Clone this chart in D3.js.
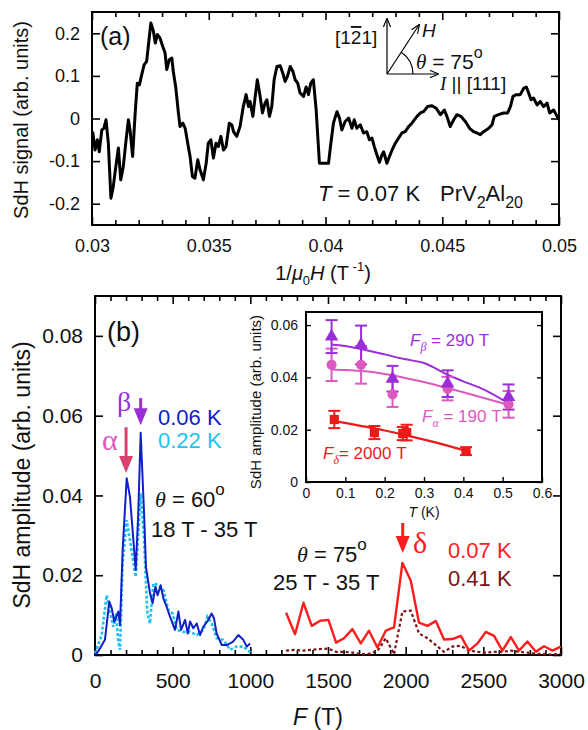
<!DOCTYPE html>
<html><head><meta charset="utf-8">
<script src="https://cdn.jsdelivr.net/npm/d3@7"></script>
<style>
body{margin:0;background:#fff}
svg text{font-family:"Liberation Sans",Arial,Helvetica,sans-serif;fill:#111}
</style>
</head><body><svg id="c" width="588" height="730"></svg>
<script>
// ---------------- DATA ----------------
// Panel (a): SdH signal vs 1/mu0H, pairs [1/mu0H (T^-1), signal]
const sdhSignal = [[0.03003,-0.031],[0.03013,-0.074],[0.03023,-0.05],[0.03031,-0.078],[0.03042,-0.027],[0.03051,-0.023],[0.0306,-0.003],[0.0307,-0.058],[0.03081,-0.187],[0.03091,-0.16],[0.03102,-0.113],[0.03113,-0.069],[0.03123,-0.144],[0.03134,-0.113],[0.03146,-0.05],[0.03156,-0.003],[0.03163,-0.027],[0.03174,-0.089],[0.03184,0.005],[0.03194,0.083],[0.03203,0.079],[0.03213,0.103],[0.03223,0.126],[0.03234,0.134],[0.03241,0.169],[0.03252,0.224],[0.03263,0.205],[0.03271,0.177],[0.0328,0.197],[0.03291,0.189],[0.03303,0.169],[0.03313,0.154],[0.0332,0.115],[0.03331,0.138],[0.03342,0.142],[0.03348,0.111],[0.03359,0.072],[0.0337,0.013],[0.03377,-0.019],[0.03389,-0.011],[0.03399,-0.023],[0.0341,-0.058],[0.0342,-0.089],[0.0343,-0.136],[0.03441,-0.14],[0.03453,-0.097],[0.03463,-0.121],[0.03477,-0.144],[0.03489,-0.105],[0.03498,-0.058],[0.03509,-0.05],[0.0352,-0.093],[0.03531,-0.058],[0.03541,-0.066],[0.03552,-0.042],[0.03563,-0.074],[0.03574,-0.066],[0.03588,-0.011],[0.03599,-0.015],[0.03606,-0.031],[0.0362,-0.042],[0.03634,-0.019],[0.03648,0.028],[0.0366,0.056],[0.0367,0.028],[0.03677,0.04],[0.03689,0.005],[0.03699,0.052],[0.03708,0.091],[0.0372,0.052],[0.0373,0.013],[0.03741,0.036],[0.03749,0.044],[0.0376,0.005],[0.0377,0.028],[0.0378,0.091],[0.03792,0.122],[0.03806,0.124],[0.03817,0.107],[0.03827,0.087],[0.03837,0.099],[0.03849,0.122],[0.0386,0.111],[0.0387,0.091],[0.03881,0.083],[0.03891,0.06],[0.03906,0.052],[0.03917,0.074],[0.03927,0.056],[0.03937,0.083],[0.03948,0.091],[0.0396,0.02],[0.03974,-0.105],[0.03991,-0.105],[0.04013,-0.105],[0.04023,-0.058],[0.04034,-0.011],[0.04049,0.016],[0.0406,0.001],[0.0407,-0.027],[0.04084,-0.007],[0.04099,0.001],[0.04113,-0.023],[0.04123,-0.003],[0.04134,-0.023],[0.04149,-0.015],[0.04163,-0.034],[0.04177,-0.031],[0.04188,-0.05],[0.04199,-0.046],[0.04209,-0.066],[0.0422,-0.085],[0.04231,-0.103],[0.04242,-0.085],[0.04249,-0.078],[0.04263,-0.105],[0.04274,-0.089],[0.04285,-0.074],[0.04299,-0.058],[0.04313,-0.046],[0.04327,-0.034],[0.04341,-0.031],[0.04356,-0.019],[0.0437,-0.011],[0.04392,0.005],[0.04406,0.013],[0.0442,0.016],[0.04437,0.028],[0.04456,0.03],[0.04474,0.024],[0.04492,0.009],[0.04509,0.02],[0.0452,0.005],[0.04534,-0.019],[0.04549,-0.003],[0.04563,0.009],[0.0458,0.005],[0.04599,-0.007],[0.04617,-0.023],[0.04634,-0.031],[0.04649,-0.034],[0.04663,-0.038],[0.04677,-0.031],[0.04699,-0.023],[0.04713,-0.015],[0.04723,0.005],[0.04741,0.009],[0.04763,0.013],[0.0478,0.013],[0.04792,0.028],[0.04803,0.052],[0.04817,0.056],[0.04834,0.056],[0.04849,0.071],[0.0486,0.074],[0.0487,0.06],[0.0488,0.044],[0.04891,0.048],[0.04906,0.032],[0.0492,0.04],[0.04934,0.028],[0.04949,0.036],[0.0496,0.013],[0.04977,0.02],[0.04992,0.005],[0.05,-0.003]];

// Panel (b): FFT amplitude spectra
const fBlue = [0,22,64,92,108,124,150,161,178,204,225,247,262,278,294,316,328,354,371,389,403,423,440,461,483,515,537,554,580,597,612,633,655,676,698,723,751,766,783,816,848,887,923,955,977,998];
const aBlue006K = [0,0.001,0.0038,0.0134,0.0117,0.0083,0.0109,0.0075,0.0263,0.0443,0.0397,0.0288,0.0213,0.035,0.0557,0.0355,0.0221,0.0155,0.013,0.0171,0.015,0.0175,0.0142,0.0121,0.0096,0.0063,0.0109,0.0063,0.0088,0.0054,0.0084,0.0067,0.0079,0.005,0.0071,0.0084,0.0104,0.0092,0.0054,0.0025,0.0025,0.0033,0.005,0.0038,0.0021,0.0029];
const fCyan = [0,43,75,97,118,135,150,161,178,204,225,262,294,316,337,354,376,408,440,472,500,526,569,612,655,698,723,751,783,826,869,912,955,1008];
const aCyan022K = [0.0004,0.005,0.015,0.0109,0.0071,0.0104,0.0033,0.0013,0.023,0.0338,0.0288,0.0196,0.0405,0.0288,0.0104,0.0079,0.018,0.0175,0.0163,0.0113,0.0104,0.0063,0.0058,0.0058,0.005,0.0063,0.0096,0.0079,0.0042,0.0038,0.0013,0.0021,0.0021,0.0004];
const fRed = [1230,1288,1342,1395,1449,1503,1552,1603,1657,1711,1764,1818,1872,1925,1979,2033,2086,2140,2194,2247,2301,2355,2408,2462,2516,2569,2623,2677,2730,2784,2838,2891,2945,2999];
const aRed007K = [0.0106,0.0052,0.0131,0.0073,0.0086,0.0088,0.0031,0.0042,0.0065,0.0029,0.0061,0.0019,0.0061,0.0069,0.0231,0.0186,0.0081,0.0073,0.0085,0.0039,0.004,0.0048,0.0011,0.0029,0.0058,0.0048,0.0011,0.0045,0.0011,0.0034,0.0008,0.0022,0.0011,0.0021];
const aDark041K = [0.0011,0.0013,0.0011,0.0013,0.0015,0.0016,0.0008,0.0008,0.0006,0.0002,0.0003,0.001,0.0042,0.0002,0.0109,0.0111,0.0054,0.0042,0.0025,0.0008,0.0021,0.0023,0.0011,0.0008,0.0006,0.0008,0.0008,0.0011,0.0008,0.0006,0.0003,0.0003,0.0001,0.0003];

// Inset: amplitude vs temperature
const betaT = [0.065,0.14,0.22,0.36,0.515];
const betaA = [0.0556,0.0524,0.0395,0.0376,0.0325];
const betaErr = [0.0063,0.0074,0.0049,0.0051,0.0048];
const alphaT = [0.065,0.14,0.22,0.36,0.515];
const alphaA = [0.0448,0.0448,0.0335,0.0357,0.0297];
const alphaErr = [0.0062,0.0072,0.0048,0.0045,0.0051];
const deltaT = [0.072,0.174,0.246,0.256,0.407];
const deltaA = [0.0239,0.0189,0.0185,0.0189,0.0118];
const deltaErr = [0.0033,0.0025,0.0025,0.003,0.0015];
const betaFitT = [0.065,0.1,0.15,0.2,0.25,0.3,0.36,0.4,0.45,0.51];
const betaFitA = [0.0526,0.052,0.0505,0.0488,0.047,0.0455,0.041,0.0385,0.0355,0.0305];
const alphaFitT = [0.065,0.1,0.15,0.2,0.25,0.3,0.35,0.4,0.45,0.51];
const alphaFitA = [0.043,0.0428,0.0423,0.0413,0.0399,0.0382,0.0363,0.0343,0.0322,0.0297];
const deltaFitT = [0.07,0.15,0.2,0.25,0.3,0.35,0.4];
const deltaFitA = [0.0234,0.0212,0.0197,0.018,0.0162,0.0143,0.0122];

// Tick values / labels
const aXTicks = [0.03,0.035,0.04,0.045,0.05];
const aXTickLabels = ["0.03","0.035","0.04","0.045","0.05"];
const aYTicks = [-0.2,-0.1,0,0.1,0.2];
const aYTickLabels = ["-0.2","-0.1","0","0.1","0.2"];
const bXTicks = [0,500,1000,1500,2000,2500,3000];
const bYTicks = [0,0.02,0.04,0.06,0.08];
const bYTickLabels = ["0","0.02","0.04","0.06","0.08"];
const inXTicks = [0,0.1,0.2,0.3,0.4,0.5,0.6];
const inYTicks = [0,0.02,0.04,0.06];
const inYTickLabels = ["0","0.02","0.04","0.06"];

// ---------------- DRAW ----------------
const svg = d3.select('#c');
const C = {blue:'#1020c8', cyan:'#1ec2f2', red:'#ff1c1c', dark:'#7a1414',
  beta:'#9a2fd8', alpha:'#dc5abf', alphaArrow:'#d8406e', delta:'#ee1a1a'};

function axes(g, x, y, o){
  const [x0,x1] = x.range(), [y0,y1] = y.range();
  const mk = (ax, tr, vals, size, fmt, pad, fs) => {
    const a = g.append('g').attr('transform', tr)
      .call(ax.tickValues(vals).tickSizeInner(-size).tickSizeOuter(0).tickPadding(pad).tickFormat(fmt));
    a.select('.domain').remove();
    a.selectAll('line').attr('stroke','#000').attr('stroke-width',o.tw||1.6);
    a.selectAll('text').attr('font-size',fs).attr('fill','#111')
      .style('font-family','"Liberation Sans",Arial,sans-serif');
    return a;
  };
  const none = () => '';
  mk(d3.axisBottom(x), `translate(0,${y0})`, o.xMajor, o.maj, o.xFmt, o.xPad, o.fs);
  if (o.xMinor) mk(d3.axisBottom(x), `translate(0,${y0})`, o.xMinor, o.min, none, 0, 0);
  if (o.top){
    mk(d3.axisTop(x), `translate(0,${y1})`, o.xMajor, o.maj, none, 0, 0);
    if (o.xMinor) mk(d3.axisTop(x), `translate(0,${y1})`, o.xMinor, o.min, none, 0, 0);
  }
  mk(d3.axisLeft(y), `translate(${x0},0)`, o.yMajor, o.maj, o.yFmt, o.yPad, o.fs);
  if (o.right) mk(d3.axisRight(y), `translate(${x1},0)`, o.yMajor, o.maj, none, 0, 0);
  g.append('rect').attr('x',x0).attr('y',y1).attr('width',x1-x0).attr('height',y0-y1)
    .attr('fill','none').attr('stroke','#000').attr('stroke-width',o.fw||2);
}

// ===== Panel (a) =====
const xa = d3.scaleLinear().domain([0.03,0.05]).range([92,559]);
const ya = d3.scaleLinear().domain([-0.25,0.25]).range([225,12]);
const ga = svg.append('g');
const aMinor = d3.range(0,21).map(i => 0.03 + i*0.001).filter(v => !aXTicks.some(t => Math.abs(t-v)<1e-9));
axes(ga, xa, ya, {xMajor:aXTicks, xMinor:aMinor, xFmt:(d,i)=>aXTickLabels[i], yMajor:aYTicks,
  yFmt:(d,i)=>aYTickLabels[i], maj:8, min:5, xPad:14, yPad:12, fs:18, top:true, right:true});
ga.append('path').datum(sdhSignal)
  .attr('d', d3.line().x(d=>xa(d[0])).y(d=>ya(d[1])))
  .attr('fill','none').attr('stroke','#000').attr('stroke-width',3).attr('stroke-linejoin','round');

ga.append('text').attr('x',100).attr('y',45).attr('font-size',25).text('(a)');
ga.append('text').attr('transform','translate(28,120) rotate(-90)').attr('text-anchor','middle')
  .attr('font-size',20).text('SdH signal (arb. units)');
const xl = ga.append('text').attr('x',323).attr('y',280).attr('text-anchor','middle').attr('font-size',20);
xl.append('tspan').text('1/');
xl.append('tspan').attr('font-style','italic').text('μ');
xl.append('tspan').attr('font-size',13).attr('dy',5).text('0');
xl.append('tspan').attr('font-style','italic').attr('dy',-5).text('H');
xl.append('tspan').text(' (T');
xl.append('tspan').attr('font-size',13).attr('dy',-9).text(' -1');
xl.append('tspan').attr('dy',9).text(')');

const tl = ga.append('text').attr('x',318).attr('y',201).attr('font-size',22);
tl.append('tspan').attr('font-style','italic').text('T');
tl.append('tspan').text(' = 0.07 K');
const pl = ga.append('text').attr('x',440).attr('y',201).attr('font-size',22);
pl.append('tspan').text('PrV');
pl.append('tspan').attr('font-size',16).attr('dy',7).text('2');
pl.append('tspan').attr('dy',-7).text('Al');
pl.append('tspan').attr('font-size',16).attr('dy',7).text('20');

// orientation diagram
const defs = svg.append('defs');
defs.append('marker').attr('id','ah').attr('viewBox','0 0 10 10').attr('refX',9).attr('refY',5)
  .attr('markerWidth',9).attr('markerHeight',9).attr('orient','auto-start-reverse').attr('markerUnits','userSpaceOnUse')
  .append('path').attr('d','M0,1 L10,5 L0,9').attr('fill','none').attr('stroke','#000').attr('stroke-width',1.3);
const ox=387, oy=74;
ga.append('line').attr('x1',ox).attr('y1',oy).attr('x2',ox).attr('y2',19).attr('stroke','#000').attr('stroke-width',1.2).attr('marker-end','url(#ah)');
ga.append('line').attr('x1',ox).attr('y1',oy).attr('x2',438).attr('y2',oy).attr('stroke','#000').attr('stroke-width',1.2).attr('marker-end','url(#ah)');
ga.append('line').attr('x1',ox).attr('y1',oy).attr('x2',419).attr('y2',25).attr('stroke','#000').attr('stroke-width',1.2).attr('marker-end','url(#ah)');
ga.append('path').attr('d', d3.arc().innerRadius(26).outerRadius(26).startAngle(Math.PI/2).endAngle(Math.PI/2 - 57*Math.PI/180)())
  .attr('transform',`translate(${ox},${oy})`).attr('fill','none').attr('stroke','#000').attr('stroke-width',1.2);
const dirl = ga.append('text').attr('x',335).attr('y',44).attr('font-size',19);
dirl.append('tspan').text('[1');
dirl.append('tspan').style('text-decoration','overline').text('2');
dirl.append('tspan').text('1]');
ga.append('text').attr('x',422).attr('y',37).attr('font-size',19).attr('font-style','italic').text('H');
const th = ga.append('text').attr('x',416).attr('y',69).attr('font-size',21);
th.append('tspan').attr('font-style','italic').style('font-family','"Liberation Serif",serif').text('θ');
th.append('tspan').text(' = 75');
th.append('tspan').attr('font-size',16).attr('dy',-11).text('o');
const il = ga.append('text').attr('x',440).attr('y',90).attr('font-size',19);
il.append('tspan').attr('font-style','italic').style('font-family','"Liberation Serif",serif').text('I');
il.append('tspan').text(' || [111]');

// ===== Panel (b) =====
const xb = d3.scaleLinear().domain([0,3000]).range([95,561]);
const yb = d3.scaleLinear().domain([0,0.09]).range([655,296]);
const gb = svg.append('g');
const bMinor = d3.range(0,31).map(i=>i*100).filter(v=>v%500!==0);
axes(gb, xb, yb, {xMajor:bXTicks, xMinor:bMinor, xFmt:d=>String(d), yMajor:bYTicks,
  yFmt:(d,i)=>bYTickLabels[i], maj:8, min:5, xPad:18, yPad:12, fs:21, top:true, right:true});

const lineB = (fs, as) => d3.line().x((d,i)=>xb(fs[i])).y((d,i)=>yb(as[i]))(as);
gb.append('path').attr('d', lineB(fCyan,aCyan022K)).attr('fill','none').attr('stroke',C.cyan).attr('stroke-width',2.6).attr('stroke-dasharray','3,2');
gb.append('path').attr('d', lineB(fBlue,aBlue006K)).attr('fill','none').attr('stroke',C.blue).attr('stroke-width',2).attr('stroke-linejoin','round');
gb.append('path').attr('d', lineB(fRed,aDark041K)).attr('fill','none').attr('stroke',C.dark).attr('stroke-width',2.2).attr('stroke-dasharray','3,2.5');
gb.append('path').attr('d', lineB(fRed,aRed007K)).attr('fill','none').attr('stroke',C.red).attr('stroke-width',2.4).attr('stroke-linejoin','round');

function downArrow(F, a0, a1, color){
  const x = xb(F), y0 = yb(a0), y1 = yb(a1);
  gb.append('line').attr('x1',x).attr('x2',x).attr('y1',y0).attr('y2',y1-12).attr('stroke',color).attr('stroke-width',3);
  gb.append('path').attr('d',`M${x-7},${y1-17}L${x+7},${y1-17}L${x},${y1}Z`).attr('fill',color);
}
downArrow(294, 0.0644, 0.0576, C.beta);
downArrow(200, 0.0571, 0.0456, C.alphaArrow);
downArrow(1981, 0.0331, 0.0256, C.red);

gb.append('text').attr('x',107).attr('y',341).attr('font-size',27).text('(b)');
gb.append('text').attr('x',117).attr('y',411).attr('font-size',28).style('fill',C.beta)
  .style('font-family','"Liberation Serif",serif').text('β');
gb.append('text').attr('x',102).attr('y',450).attr('font-size',30).style('fill',C.alpha)
  .style('font-family','"Liberation Serif",serif').text('α');
gb.append('text').attr('x',158).attr('y',425).attr('font-size',22).style('fill',C.blue).text('0.06 K');
gb.append('text').attr('x',158).attr('y',448).attr('font-size',22).style('fill',C.cyan).text('0.22 K');
const t60 = gb.append('text').attr('x',155).attr('y',507).attr('font-size',22);
t60.append('tspan').attr('font-style','italic').style('font-family','"Liberation Serif",serif').text('θ');
t60.append('tspan').text(' = 60');
t60.append('tspan').attr('font-size',17).attr('dy',-12).text('o');
gb.append('text').attr('x',151).attr('y',537).attr('font-size',22).text('18 T - 35 T');
const t75 = gb.append('text').attr('x',297).attr('y',562).attr('font-size',22);
t75.append('tspan').attr('font-style','italic').style('font-family','"Liberation Serif",serif').text('θ');
t75.append('tspan').text(' = 75');
t75.append('tspan').attr('font-size',17).attr('dy',-12).text('o');
gb.append('text').attr('x',273).attr('y',590).attr('font-size',22).text('25 T - 35 T');
gb.append('text').attr('x',413).attr('y',553).attr('font-size',30).style('fill',C.red)
  .style('font-family','"Liberation Serif",serif').text('δ');
gb.append('text').attr('x',448).attr('y',558).attr('font-size',22).style('fill',C.red).text('0.07 K');
gb.append('text').attr('x',448).attr('y',586).attr('font-size',22).style('fill',C.dark).text('0.41 K');

gb.append('text').attr('transform','translate(30,475) rotate(-90)').attr('text-anchor','middle')
  .attr('font-size',23).text('SdH amplitude (arb. units)');
const fl = gb.append('text').attr('x',318).attr('y',725).attr('text-anchor','middle').attr('font-size',23);
fl.append('tspan').attr('font-style','italic').text('F');
fl.append('tspan').text(' (T)');

// ===== Inset =====
const xi = d3.scaleLinear().domain([0,0.6]).range([306,542]);
const yi = d3.scaleLinear().domain([0,0.065]).range([482,312]);
const gi = svg.append('g');
gi.append('rect').attr('x',306).attr('y',312).attr('width',236).attr('height',170).attr('fill','#fff');
axes(gi, xi, yi, {xMajor:inXTicks, xFmt:d=>String(d), yMajor:inYTicks, yFmt:(d,i)=>inYTickLabels[i],
  maj:5, xPad:6, yPad:8, fs:14, top:false, right:true, tw:1.4, fw:2});

const fitLine = (ts, as) => d3.line().x((d,i)=>xi(ts[i])).y((d,i)=>yi(as[i])).curve(d3.curveMonotoneX)(as);
gi.append('path').attr('d',fitLine(alphaFitT,alphaFitA)).attr('fill','none').attr('stroke',C.alpha).attr('stroke-width',2);
gi.append('path').attr('d',fitLine(betaFitT,betaFitA)).attr('fill','none').attr('stroke',C.beta).attr('stroke-width',2);
gi.append('path').attr('d',fitLine(deltaFitT,deltaFitA)).attr('fill','none').attr('stroke',C.delta).attr('stroke-width',2.2);

function errs(ts, as, es, color){
  ts.forEach((t,i)=>{
    const x = xi(t);
    gi.append('line').attr('x1',x).attr('x2',x).attr('y1',yi(as[i]-es[i])).attr('y2',yi(as[i]+es[i])).attr('stroke',color).attr('stroke-width',2);
    [as[i]-es[i], as[i]+es[i]].forEach(v=>gi.append('line').attr('x1',x-6).attr('x2',x+6).attr('y1',yi(v)).attr('y2',yi(v)).attr('stroke',color).attr('stroke-width',2));
  });
}
errs(alphaT, alphaA, alphaErr, C.alpha);
errs(betaT, betaA, betaErr, C.beta);
errs(deltaT, deltaA, deltaErr, C.delta);
const sym = (type,size) => d3.symbol().type(type).size(size)();
alphaT.forEach((t,i)=>gi.append('path').attr('d',sym(d3.symbolCircle,80)).attr('transform',`translate(${xi(t)},${yi(alphaA[i])})`).attr('fill',C.alpha));
betaT.forEach((t,i)=>gi.append('path').attr('d',sym(d3.symbolTriangle,80)).attr('transform',`translate(${xi(t)},${yi(betaA[i])})`).attr('fill',C.beta));
deltaT.forEach((t,i)=>gi.append('path').attr('d',sym(d3.symbolSquare,85)).attr('transform',`translate(${xi(t)},${yi(deltaA[i])})`).attr('fill',C.delta));

gi.append('text').attr('transform','translate(261,402) rotate(-90)').attr('text-anchor','middle')
  .attr('font-size',15).text('SdH amplitude (arb. units)');
const tk = gi.append('text').attr('x',424).attr('y',517).attr('text-anchor','middle').attr('font-size',14);
tk.append('tspan').attr('font-style','italic').text('T');
tk.append('tspan').text(' (K)');
function fLabel(x,y,sub,rest,color){
  const t = gi.append('text').attr('x',x).attr('y',y).attr('font-size',17).style('fill',color);
  t.append('tspan').attr('font-style','italic').text('F');
  t.append('tspan').attr('font-size',12).attr('font-style','italic').attr('dy',5).style('font-family','"Liberation Serif",serif').text(sub);
  t.append('tspan').attr('dy',-5).text(rest);
}
fLabel(410,346,'β',' = 290 T',C.beta);
fLabel(422,422,'α',' = 190 T',C.alpha);
fLabel(323,459,'δ','= 2000 T',C.delta);
</script>
</body></html>
